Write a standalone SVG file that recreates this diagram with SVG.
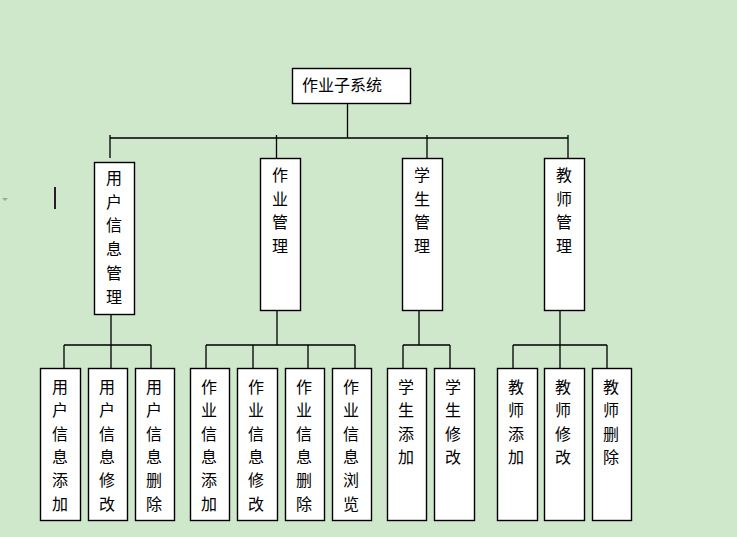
<svg xmlns="http://www.w3.org/2000/svg" width="737" height="537" viewBox="0 0 737 537">
<style>
.box{fill:#fff;stroke:#000;stroke-width:1.4}
.ln{stroke:#000;stroke-width:1.3;fill:none}
.t{font-family:"Noto Sans CJK SC","Noto Sans CJK JP",sans-serif;font-size:16px;fill:#000;text-anchor:middle}
</style>
<rect width="737" height="537" fill="#cfe7cb"/>
<polygon points="2,198 8,198 5,201" fill="#9aa69a"/>
<rect x="54" y="187" width="2" height="22" fill="#2a1a30"/>
<g id="connectors">
<path class="ln" d="M347.5,103 V138 M110,138 H568 M110,135 V158 M276.5,135 V158 M427,135 V158 M568,135 V158"/>
<path class="ln" d="M111,314 V345 M64,345 H151 M64,345 V368 M111,345 V368 M151,345 V368"/>
<path class="ln" d="M277,310 V345 M206,345 H355 M206,345 V368 M253,345 V368 M308,345 V368 M355,345 V368"/>
<path class="ln" d="M419,310 V345 M403,345 H450 M403,345 V368 M450,345 V368"/>
<path class="ln" d="M560,310 V345 M513,345 H607 M513,345 V368 M560,345 V368 M607,345 V368"/>
</g>
<g id="root"><rect class="box" x="292.5" y="68.5" width="118" height="35"/><text class="t" x="342" y="91">作业子系统</text></g>
<g id="n1"><rect class="box" x="94.5" y="162.5" width="40" height="152"/><text class="t"><tspan x="114" y="184">用</tspan><tspan x="114" dy="23.7">户</tspan><tspan x="114" dy="23.7">信</tspan><tspan x="114" dy="23.7">息</tspan><tspan x="114" dy="23.7">管</tspan><tspan x="114" dy="23.7">理</tspan></text></g>
<g id="n2"><rect class="box" x="260.5" y="158.5" width="40" height="152"/><text class="t"><tspan x="280" y="181">作</tspan><tspan x="280" dy="23.5">业</tspan><tspan x="280" dy="23.5">管</tspan><tspan x="280" dy="23.5">理</tspan></text></g>
<g id="n3"><rect class="box" x="402.5" y="158.5" width="40" height="152"/><text class="t"><tspan x="422" y="181">学</tspan><tspan x="422" dy="23.5">生</tspan><tspan x="422" dy="23.5">管</tspan><tspan x="422" dy="23.5">理</tspan></text></g>
<g id="n4"><rect class="box" x="544.5" y="158.5" width="40" height="152"/><text class="t"><tspan x="564" y="181">教</tspan><tspan x="564" dy="23.5">师</tspan><tspan x="564" dy="23.5">管</tspan><tspan x="564" dy="23.5">理</tspan></text></g>
<g id="n11"><rect class="box" x="40.5" y="368.5" width="40" height="152"/><text class="t"><tspan x="60" y="392.7">用</tspan><tspan x="60" dy="23.4">户</tspan><tspan x="60" dy="23.4">信</tspan><tspan x="60" dy="23.4">息</tspan><tspan x="60" dy="23.4">添</tspan><tspan x="60" dy="23.4">加</tspan></text></g>
<g id="n12"><rect class="box" x="88.5" y="368.5" width="39" height="152"/><text class="t"><tspan x="107" y="392.7">用</tspan><tspan x="107" dy="23.4">户</tspan><tspan x="107" dy="23.4">信</tspan><tspan x="107" dy="23.4">息</tspan><tspan x="107" dy="23.4">修</tspan><tspan x="107" dy="23.4">改</tspan></text></g>
<g id="n13"><rect class="box" x="135.5" y="368.5" width="39" height="152"/><text class="t"><tspan x="154" y="392.7">用</tspan><tspan x="154" dy="23.4">户</tspan><tspan x="154" dy="23.4">信</tspan><tspan x="154" dy="23.4">息</tspan><tspan x="154" dy="23.4">删</tspan><tspan x="154" dy="23.4">除</tspan></text></g>
<g id="n21"><rect class="box" x="190.5" y="368.5" width="39" height="152"/><text class="t"><tspan x="209" y="392.7">作</tspan><tspan x="209" dy="23.4">业</tspan><tspan x="209" dy="23.4">信</tspan><tspan x="209" dy="23.4">息</tspan><tspan x="209" dy="23.4">添</tspan><tspan x="209" dy="23.4">加</tspan></text></g>
<g id="n22"><rect class="box" x="237.5" y="368.5" width="40" height="152"/><text class="t"><tspan x="256" y="392.7">作</tspan><tspan x="256" dy="23.4">业</tspan><tspan x="256" dy="23.4">信</tspan><tspan x="256" dy="23.4">息</tspan><tspan x="256" dy="23.4">修</tspan><tspan x="256" dy="23.4">改</tspan></text></g>
<g id="n23"><rect class="box" x="285.5" y="368.5" width="39" height="152"/><text class="t"><tspan x="304" y="392.7">作</tspan><tspan x="304" dy="23.4">业</tspan><tspan x="304" dy="23.4">信</tspan><tspan x="304" dy="23.4">息</tspan><tspan x="304" dy="23.4">删</tspan><tspan x="304" dy="23.4">除</tspan></text></g>
<g id="n24"><rect class="box" x="332.5" y="368.5" width="39" height="152"/><text class="t"><tspan x="351" y="392.7">作</tspan><tspan x="351" dy="23.4">业</tspan><tspan x="351" dy="23.4">信</tspan><tspan x="351" dy="23.4">息</tspan><tspan x="351" dy="23.4">浏</tspan><tspan x="351" dy="23.4">览</tspan></text></g>
<g id="n31"><rect class="box" x="387.5" y="368.5" width="39" height="152"/><text class="t"><tspan x="406" y="392.7">学</tspan><tspan x="406" dy="23.4">生</tspan><tspan x="406" dy="23.4">添</tspan><tspan x="406" dy="23.4">加</tspan></text></g>
<g id="n32"><rect class="box" x="434.5" y="368.5" width="40" height="152"/><text class="t"><tspan x="453" y="392.7">学</tspan><tspan x="453" dy="23.4">生</tspan><tspan x="453" dy="23.4">修</tspan><tspan x="453" dy="23.4">改</tspan></text></g>
<g id="n41"><rect class="box" x="497.5" y="368.5" width="40" height="152"/><text class="t"><tspan x="516" y="392.7">教</tspan><tspan x="516" dy="23.4">师</tspan><tspan x="516" dy="23.4">添</tspan><tspan x="516" dy="23.4">加</tspan></text></g>
<g id="n42"><rect class="box" x="544.5" y="368.5" width="40" height="152"/><text class="t"><tspan x="563" y="392.7">教</tspan><tspan x="563" dy="23.4">师</tspan><tspan x="563" dy="23.4">修</tspan><tspan x="563" dy="23.4">改</tspan></text></g>
<g id="n43"><rect class="box" x="592.5" y="368.5" width="39" height="152"/><text class="t"><tspan x="611" y="392.7">教</tspan><tspan x="611" dy="23.4">师</tspan><tspan x="611" dy="23.4">删</tspan><tspan x="611" dy="23.4">除</tspan></text></g>
</svg>
